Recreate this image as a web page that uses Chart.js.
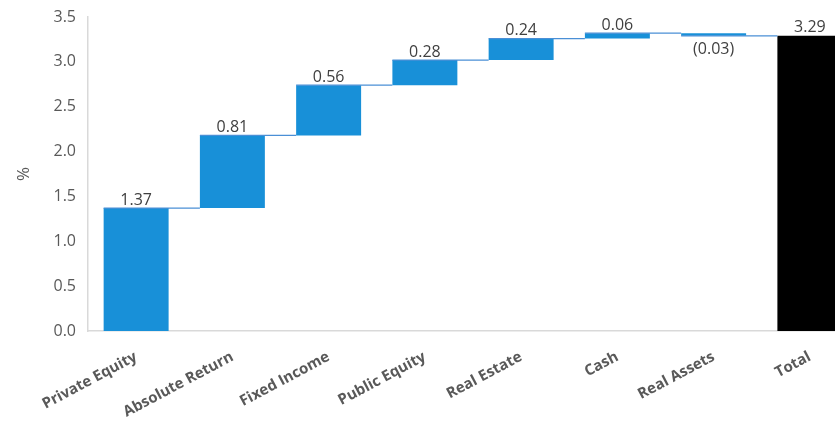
<!DOCTYPE html>
<html>
<head>
<meta charset="utf-8">
<script src="https://cdn.jsdelivr.net/npm/chart.js@4"></script>
<style>
  html, body { margin: 0; padding: 0; background: #fff; overflow: hidden; }
  #wrap { width: 862px; height: 427px; }
</style>
</head>
<body>
<div id="wrap"><canvas id="chartId" width="862" height="427"></canvas></div>
<script>
var categories = ["Private Equity", "Absolute Return", "Fixed Income", "Public Equity", "Real Estate", "Cash", "Real Assets", "Total"];
var changes = [1.37, 0.81, 0.56, 0.28, 0.24, 0.06, -0.03];
var total = 3.29;
var yTicks = [0, 0.5, 1, 1.5, 2, 2.5, 3, 3.5];

// floating bars built from the changes
var ranges = [];
var running = 0;
for (var i = 0; i < changes.length; i++) {
    ranges.push([running, running + changes[i]]);
    running = running + changes[i];
}
ranges.push([0, total]);

var colors = categories.map(function (c, i) {
    return i === categories.length - 1 ? '#000000' : '#1890d8';
});

function fmt(v) {
    return v < 0 ? '(' + Math.abs(v).toFixed(2) + ')' : v.toFixed(2);
}

var waterfallExtras = {
    id: 'waterfallExtras',
    afterDatasetsDraw: function (chart) {
        var ctx = chart.ctx;
        var meta = chart.getDatasetMeta(0);
        var y = chart.scales.y;
        ctx.save();
        // connectors
        ctx.strokeStyle = '#4a8fd6';
        ctx.lineWidth = 1.2;
        for (var i = 0; i < meta.data.length - 1; i++) {
            var a = meta.data[i], b = meta.data[i + 1];
            var lvl = y.getPixelForValue(ranges[i][1]);
            ctx.beginPath();
            ctx.moveTo(a.x - a.width / 2, lvl);
            ctx.lineTo(b.x - b.width / 2, lvl);
            ctx.stroke();
        }
        // value labels
        ctx.fillStyle = '#404040';
        ctx.font = '16px "Open Sans"';
        ctx.textAlign = 'center';
        for (var j = 0; j < meta.data.length; j++) {
            var el = meta.data[j];
            var v = j < changes.length ? changes[j] : total;
            if (v < 0) {
                ctx.textBaseline = 'top';
                ctx.fillText(fmt(v), el.x, y.getPixelForValue(Math.min(ranges[j][0], ranges[j][1])) + 6);
            } else {
                ctx.textBaseline = 'bottom';
                ctx.fillText(fmt(v), el.x, y.getPixelForValue(Math.max(ranges[j][0], ranges[j][1])) - 0);
            }
        }
        ctx.restore();
    }
};

window.onload = function () {
    var chrt = document.getElementById("chartId").getContext("2d");
    var chartId = new Chart(chrt, {
        type: 'bar',
        data: {
            labels: categories,
            datasets: [{
                label: '',
                data: ranges,
                backgroundColor: colors,
                borderWidth: 0,
                borderSkipped: false,
                categoryPercentage: 1.0,
                barPercentage: 0.675,
            }],
        },
        options: {
            responsive: false,
            animation: false,
            layout: {
                padding: { top: 17, right: 4, left: 0, bottom: 0 }
            },
            plugins: {
                legend: { display: false },
                tooltip: { enabled: false },
            },
            scales: {
                x: {
                    grid: { display: false },
                    border: { color: '#d9d9d9', width: 1.5 },
                    ticks: {
                        color: '#595959',
                        font: { family: 'Open Sans', size: 15, weight: 'bold' },
                        maxRotation: 28,
                        minRotation: 28,
                        padding: 9,
                    },
                    afterFit: function (scale) { scale.height = 96; },
                },
                y: {
                    min: 0,
                    max: 3.5,
                    grid: { display: false },
                    border: { color: '#d9d9d9', width: 1.5 },
                    afterBuildTicks: function (scale) {
                        scale.ticks = yTicks.map(function (v) { return { value: v }; });
                    },
                    ticks: {
                        color: '#595959',
                        font: { family: 'Open Sans', size: 16 },
                        padding: 4,
                        callback: function (v) { return Number(v).toFixed(1); },
                    },
                    title: {
                        display: true,
                        text: '%',
                        color: '#595959',
                        font: { family: 'Open Sans', size: 17 },
                        padding: { top: 14, bottom: 10 },
                    },
                    afterFit: function (scale) { scale.width = 88; },
                }
            }
        },
        plugins: [waterfallExtras],
    });
};
</script>
</body>
</html>
